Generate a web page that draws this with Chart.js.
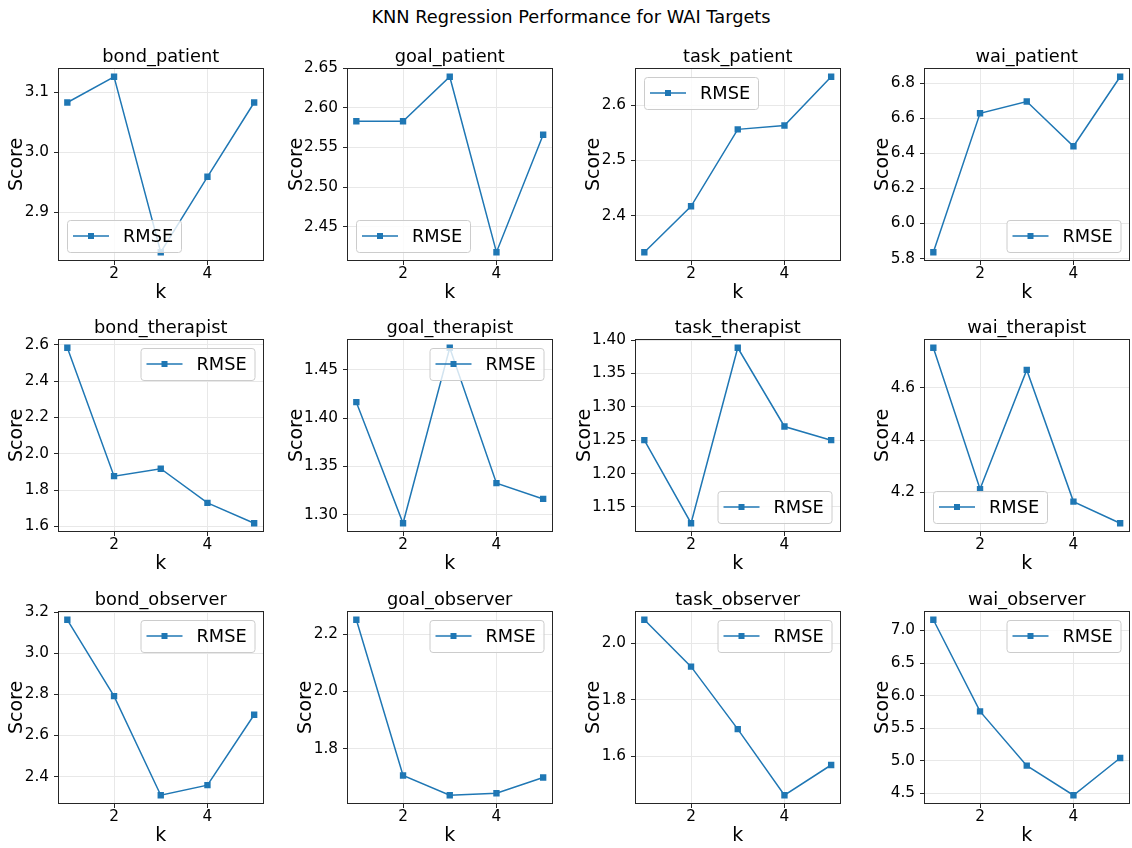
<!DOCTYPE html>
<html>
<head>
<meta charset="utf-8">
<title>KNN Regression Performance for WAI Targets</title>
<script src="https://cdn.jsdelivr.net/npm/chart.js@4.4.0/dist/chart.umd.min.js"></script>
<style>
    body {
        margin: 0;
        width: 1132px;
        height: 848px;
        overflow: hidden;
        background: #fff;
        position: relative;
        font-family: 'DejaVu Sans', sans-serif;
    }
    #suptitle {
        position: absolute;
        top: 7px;
        left: 0;
        width: 1142px;
        text-align: center;
        font-size: 17.8px;
        line-height: 20px;
        color: #000;
    }
    canvas {
        position: absolute;
    }
</style>
</head>
<body>
<div id="suptitle">KNN Regression Performance for WAI Targets</div>
<script>
// k values on the x axis
const kValues = [1, 2, 3, 4, 5];
const kTicks = [2, 4];

// RMSE per k, one array per WAI target
const bondPatient = [3.083, 3.126, 2.833, 2.959, 3.083];
const goalPatient = [2.583, 2.583, 2.639, 2.418, 2.566];
const taskPatient = [2.334, 2.417, 2.556, 2.563, 2.651];
const waiPatient = [5.836, 6.628, 6.695, 6.440, 6.836];

const bondTherapist = [2.584, 1.877, 1.918, 1.730, 1.618];
const goalTherapist = [1.4165, 1.2914, 1.4727, 1.3328, 1.3165];
const taskTherapist = [1.250, 1.1255, 1.3885, 1.2705, 1.250];
const waiTherapist = [4.754, 4.212, 4.669, 4.164, 4.081];

const bondObserver = [3.164, 2.792, 2.309, 2.358, 2.701];
const goalObserver = [2.250, 1.707, 1.638, 1.645, 1.700];
const taskObserver = [2.083, 1.917, 1.696, 1.462, 1.569];
const waiObserver = [7.164, 5.757, 4.923, 4.469, 5.041];

// y tick labels for each panel
const bondPatientTicks = ['2.9', '3.0', '3.1'];
const goalPatientTicks = ['2.45', '2.50', '2.55', '2.60', '2.65'];
const taskPatientTicks = ['2.4', '2.5', '2.6'];
const waiPatientTicks = ['5.8', '6.0', '6.2', '6.4', '6.6', '6.8'];
const bondTherapistTicks = ['1.6', '1.8', '2.0', '2.2', '2.4', '2.6'];
const goalTherapistTicks = ['1.30', '1.35', '1.40', '1.45'];
const taskTherapistTicks = ['1.15', '1.20', '1.25', '1.30', '1.35', '1.40'];
const waiTherapistTicks = ['4.2', '4.4', '4.6'];
const bondObserverTicks = ['2.4', '2.6', '2.8', '3.0', '3.2'];
const goalObserverTicks = ['1.8', '2.0', '2.2'];
const taskObserverTicks = ['1.6', '1.8', '2.0'];
const waiObserverTicks = ['4.5', '5.0', '5.5', '6.0', '6.5', '7.0'];

const panels = [
    { title: 'bond_patient', values: bondPatient, ticks: bondPatientTicks, loc: 'lower left' },
    { title: 'goal_patient', values: goalPatient, ticks: goalPatientTicks, loc: 'lower left' },
    { title: 'task_patient', values: taskPatient, ticks: taskPatientTicks, loc: 'upper left' },
    { title: 'wai_patient', values: waiPatient, ticks: waiPatientTicks, loc: 'lower right' },
    { title: 'bond_therapist', values: bondTherapist, ticks: bondTherapistTicks, loc: 'upper right' },
    { title: 'goal_therapist', values: goalTherapist, ticks: goalTherapistTicks, loc: 'upper right' },
    { title: 'task_therapist', values: taskTherapist, ticks: taskTherapistTicks, loc: 'lower right' },
    { title: 'wai_therapist', values: waiTherapist, ticks: waiTherapistTicks, loc: 'lower left' },
    { title: 'bond_observer', values: bondObserver, ticks: bondObserverTicks, loc: 'upper right' },
    { title: 'goal_observer', values: goalObserver, ticks: goalObserverTicks, loc: 'upper right' },
    { title: 'task_observer', values: taskObserver, ticks: taskObserverTicks, loc: 'upper right' },
    { title: 'wai_observer', values: waiObserver, ticks: waiObserverTicks, loc: 'upper right' }
];

const BLUE = '#1f77b4';
const FONT = 'DejaVu Sans';

// plot-area grid on the page
const colLeft = [58, 347, 635, 924];
const rowTop = [68, 339, 611];
const AX_W = 209;
const AX_H = 193;
const Y_AXIS_W = 66;
const X_AXIS_H = 52;
const TITLE_H = 34;

// panel title centred over the plot area, black frame round it
const framePlugin = {
    id: 'frame',
    afterDatasetsDraw(chart, args, opts) {
        const { ctx, chartArea: a } = chart;
        ctx.save();
        ctx.strokeStyle = '#262626';
        ctx.lineWidth = 1;
        ctx.strokeRect(Math.round(a.left) + 0.5, Math.round(a.top) + 0.5,
            Math.round(a.right - a.left) - 1, Math.round(a.bottom - a.top) - 1);

        ctx.fillStyle = '#000';
        ctx.font = '17.8px "' + FONT + '"';
        ctx.textAlign = 'center';
        ctx.textBaseline = 'alphabetic';
        ctx.fillText(opts.text, (a.left + a.right) / 2, a.top - 6);
        ctx.restore();
    }
};

// legend drawn inside the plot area, matplotlib style
const insetLegendPlugin = {
    id: 'insetLegend',
    afterDraw(chart, args, opts) {
        const { ctx, chartArea: a } = chart;
        const w = 114, h = 32, pad = 9;
        const x = opts.loc.includes('left') ? a.left + pad : a.right - pad - w;
        const y = opts.loc.includes('upper') ? a.top + pad : a.bottom - pad - h;
        const cy = y + h / 2;
        ctx.save();
        ctx.beginPath();
        ctx.roundRect(x + 0.5, y + 0.5, w, h, 3);
        ctx.fillStyle = 'rgba(255,255,255,0.8)';
        ctx.fill();
        ctx.strokeStyle = '#cccccc';
        ctx.lineWidth = 1;
        ctx.stroke();

        ctx.strokeStyle = BLUE;
        ctx.lineWidth = 1.5;
        ctx.beginPath();
        ctx.moveTo(x + 6, cy);
        ctx.lineTo(x + 42, cy);
        ctx.stroke();
        ctx.fillStyle = BLUE;
        ctx.fillRect(x + 24 - 3, cy - 3, 6, 6);

        ctx.fillStyle = '#000';
        ctx.font = '17.8px "' + FONT + '"';
        ctx.textAlign = 'left';
        ctx.textBaseline = 'middle';
        ctx.fillText(chart.data.datasets[0].label, x + 56, cy + 1);
        ctx.restore();
    }
};

panels.forEach((p, i) => {
    const row = Math.floor(i / 4);
    const col = i % 4;

    const canvas = document.createElement('canvas');
    canvas.width = Y_AXIS_W + AX_W + 1;
    canvas.height = TITLE_H + AX_H + X_AXIS_H;
    canvas.style.left = (colLeft[col] - Y_AXIS_W) + 'px';
    canvas.style.top = (rowTop[row] - TITLE_H) + 'px';
    document.body.appendChild(canvas);

    // axis limits with 5% margins like matplotlib autoscale
    const lo = Math.min(...p.values);
    const hi = Math.max(...p.values);
    const m = (hi - lo) * 0.05;
    const yTickValues = p.ticks.map(parseFloat);

    // wider tick labels push the "Score" label further out
    const longest = Math.max(...p.ticks.map(t => t.length));
    const labelOffset = longest > 3 ? 50 : 41;
    const labelSize = 19;
    const labelPad = Y_AXIS_W - labelOffset - labelSize * 1.2 / 2;

    new Chart(canvas, {
        type: 'line',
        data: {
            datasets: [{
                label: 'RMSE',
                data: kValues.map((k, j) => ({ x: k, y: p.values[j] })),
                borderColor: BLUE,
                backgroundColor: BLUE,
                borderWidth: 1.5,
                pointStyle: 'rect',
                pointRadius: 4.5,
                pointBorderWidth: 0,
                tension: 0
            }]
        },
        options: {
            responsive: false,
            animation: false,
            devicePixelRatio: 1,
            layout: { padding: { left: 0, right: 1, top: TITLE_H, bottom: 0 } },
            plugins: {
                legend: { display: false },
                tooltip: { enabled: false },
                title: { display: false },
                frame: { text: p.title },
                insetLegend: { loc: p.loc }
            },
            scales: {
                x: {
                    type: 'linear',
                    min: 0.8,
                    max: 5.2,
                    afterBuildTicks: s => { s.ticks = kTicks.map(v => ({ value: v })); },
                    afterFit: s => { s.height = X_AXIS_H; },
                    ticks: {
                        color: '#000',
                        font: { family: FONT, size: 15.3 },
                        padding: 0,
                        maxRotation: 0,
                        callback: v => String(v)
                    },
                    grid: { color: '#e8e8e8', tickColor: '#262626', tickLength: 4 },
                    border: { display: false },
                    title: {
                        display: true,
                        text: 'k',
                        color: '#000',
                        font: { family: FONT, size: labelSize },
                        padding: { top: 0, bottom: 9 }
                    }
                },
                y: {
                    type: 'linear',
                    min: lo - m,
                    max: hi + m,
                    afterBuildTicks: s => { s.ticks = yTickValues.map(v => ({ value: v })); },
                    afterFit: s => { s.width = Y_AXIS_W; },
                    ticks: {
                        color: '#000',
                        font: { family: FONT, size: 15.3 },
                        padding: 5,
                        callback: (v, j) => p.ticks[j]
                    },
                    grid: { color: '#e8e8e8', tickColor: '#262626', tickLength: 4 },
                    border: { display: false },
                    title: {
                        display: true,
                        text: 'Score',
                        color: '#000',
                        font: { family: FONT, size: labelSize },
                        padding: { top: labelPad, bottom: 0 }
                    }
                }
            }
        },
        plugins: [framePlugin, insetLegendPlugin]
    });
});
</script>
</body>
</html>
